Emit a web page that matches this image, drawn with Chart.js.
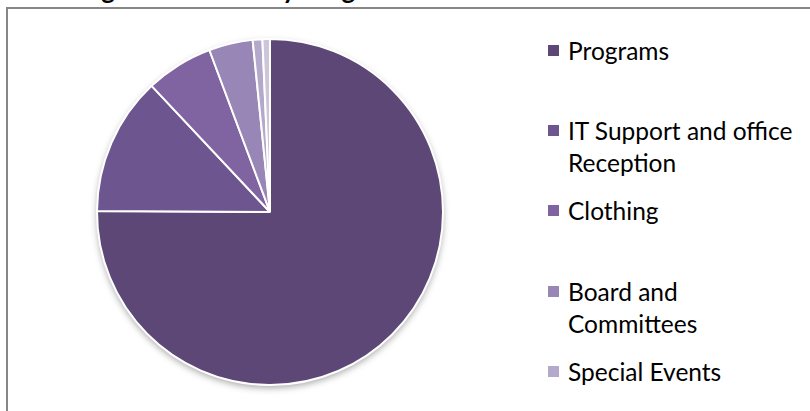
<!DOCTYPE html>
<html>
<head>
<meta charset="utf-8">
<script src="https://cdn.jsdelivr.net/npm/chart.js@4"></script>
<style>
    html, body { margin: 0; padding: 0; width: 810px; height: 411px; overflow: hidden; background: #fff; }
    #frame { position: absolute; left: 6px; top: 7px; width: 900px; height: 500px; border: 2px solid #878787; }
    #title { position: absolute; left: 55px; top: -24px; font: bold 26px Lato, sans-serif; line-height: 26px; color: #000; white-space: nowrap; }
    #pieBox { position: absolute; left: 86px; top: 28px; width: 368px; height: 368px; }
    #legend { position: absolute; left: 548px; top: 0; font: 24.5px Lato, sans-serif; color: #000; }
    .item { position: absolute; left: 0; width: 250px; line-height: 32px; }
    .box { position: absolute; left: 0; top: 10px; width: 11px; height: 11px; }
    .txt { position: absolute; left: 20px; width: 232px; }
</style>
</head>
<body>
<div id="title">Budget Allocation by Program</div>
<div id="frame"></div>
<div id="pieBox"><canvas id="pieChart"></canvas></div>
<div id="legend"></div>

<script>
// ===== DATA =====
const categories = [
    "Programs",
    "IT Support and office Reception",
    "Clothing",
    "Board and Committees",
    "Special Events",
    "Fundraising"
];
const shares = [75.1, 12.9, 6.3, 4.1, 0.9, 0.7];
const sliceColors = ["#5C4776", "#6D558F", "#8064A2", "#9886B6", "#B4A9CA", "#CDC6DB"];

// legend slot tops (px), the last one falls below the picture
const legendTops = [35, 115, 195, 276, 356, 436];

// ===== LEGEND =====
const legendEl = document.getElementById("legend");
categories.forEach((name, i) => {
    const item = document.createElement("div");
    item.className = "item";
    item.style.top = legendTops[i] + "px";
    item.innerHTML = '<div class="box" style="background:' + sliceColors[i] + '"></div>' +
        '<div class="txt">' + name + '</div>';
    legendEl.appendChild(item);
});

// ===== SHADOW UNDER PIE =====
const pieShadow = {
    id: "pieShadow",
    beforeDatasetsDraw(chart) {
        const arc = chart.getDatasetMeta(0).data[0];
        if (!arc) return;
        const ctx = chart.ctx;
        ctx.save();
        ctx.shadowColor = "rgba(0,0,0,0.35)";
        ctx.shadowBlur = 7;
        ctx.shadowOffsetY = 3;
        ctx.beginPath();
        ctx.arc(arc.x, arc.y, arc.outerRadius, 0, Math.PI * 2);
        ctx.fillStyle = "#fff";
        ctx.fill();
        ctx.restore();
    }
};

// ===== PIE =====
new Chart(document.getElementById("pieChart"), {
    type: "pie",
    data: {
        labels: categories,
        datasets: [{
            data: shares,
            backgroundColor: sliceColors,
            borderColor: "#ffffff",
            borderWidth: 2
        }]
    },
    options: {
        responsive: true,
        maintainAspectRatio: false,
        animation: false,
        layout: { padding: 10 },
        plugins: {
            legend: { display: false },
            tooltip: { enabled: false }
        }
    },
    plugins: [pieShadow]
});
</script>
</body>
</html>
